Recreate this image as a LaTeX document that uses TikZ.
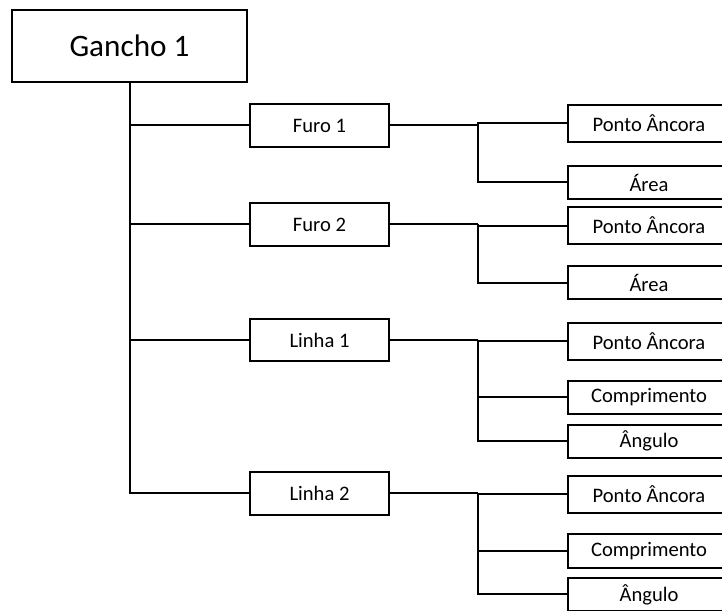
\documentclass[tikz,border=0pt]{standalone}
\usepackage{fontspec}
\setmainfont{Carlito}
\usetikzlibrary{calc}
\tikzstyle{box}=[rectangle,fill=white,inner sep=0pt,line width=1pt,draw=black,anchor=center]
\tikzstyle{root}=[box,minimum width=4.13cm,minimum height=1.27cm,font=\fontsize{15.6}{18}\selectfont]
\tikzstyle{part}=[box,minimum width=2.44cm,minimum height=0.75cm,font=\fontsize{10.3}{12}\selectfont]
\tikzstyle{attr}=[box,minimum width=2.85cm,minimum height=0.58cm,font=\fontsize{10.3}{12}\selectfont]
\tikzstyle{anchorpt}=[attr,minimum height=0.65cm]
\tikzstyle{link}=[line width=1pt]
% joint of a part with its attributes
\newcommand{\joint}[2]{\path let \p1=(#1.east) in coordinate (#2) at (8.4cm,\y1);}

\begin{document}
\begin{tikzpicture}
	\useasboundingbox (0,0) rectangle (12.688,-10.72);

	\node[root](gancho) at (2.276,-0.808){Gancho 1};

	\node[part](furo1) at (5.615,-2.205){Furo 1};
	\node[part](furo2) at (5.615,-3.945){Furo 2};
	\node[part](linha1) at (5.615,-5.975){Linha 1};
	\node[part](linha2) at (5.615,-8.672){Linha 2};

	\node[anchorpt](pa1) at (11.405,-2.170){Ponto Âncora};
	\node[attr](ar1) at (11.405,-3.207){Área};
	\node[anchorpt](pa2) at (11.405,-3.963){Ponto Âncora};
	\node[attr](ar2) at (11.405,-4.973){Área};
	\node[anchorpt](pa3) at (11.405,-6.001){Ponto Âncora};
	\node[attr](cp3) at (11.405,-6.985){Comprimento};
	\node[attr](an3) at (11.405,-7.750){Ângulo};
	\node[anchorpt](pa4) at (11.405,-8.690){Ponto Âncora};
	\node[attr](cp4) at (11.405,-9.683){Comprimento};
	\node[attr](an4) at (11.405,-10.447){Ângulo};

	% main trunk
	\draw[link] (gancho.south) |- (furo1.west);
	\draw[link] (gancho.south) |- (furo2.west);
	\draw[link] (gancho.south) |- (linha1.west);
	\draw[link] (gancho.south) |- (linha2.west);

	\joint{furo1}{j1}
	\joint{furo2}{j2}
	\joint{linha1}{j3}
	\joint{linha2}{j4}

	\draw[link] (furo1.east) -- (j1);
	\draw[link] (j1) |- (pa1.west);
	\draw[link] (j1) |- (ar1.west);

	\draw[link] (furo2.east) -- (j2);
	\draw[link] (j2) |- (pa2.west);
	\draw[link] (j2) |- (ar2.west);

	\draw[link] (linha1.east) -- (j3);
	\draw[link] (j3) |- (pa3.west);
	\draw[link] (j3) |- (cp3.west);
	\draw[link] (j3) |- (an3.west);

	\draw[link] (linha2.east) -- (j4);
	\draw[link] (j4) |- (pa4.west);
	\draw[link] (j4) |- (cp4.west);
	\draw[link] (j4) |- (an4.west);

\end{tikzpicture}
\end{document}
